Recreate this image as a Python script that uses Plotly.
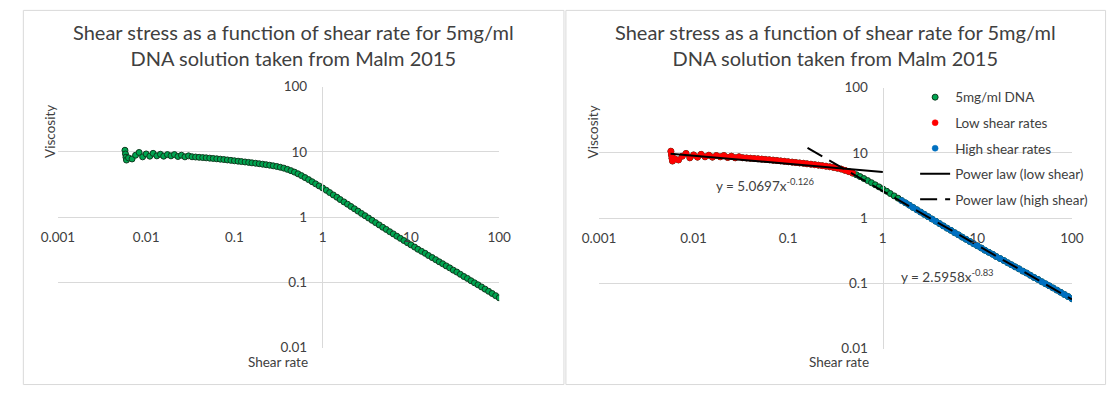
import plotly.graph_objects as go

# ---- data -------------------------------------------------------------
shear_rate = [
    0.00575, 0.00583, 0.00590, 0.00598, 0.00631, 0.00692, 0.00759, 0.00832, 0.00912,
    0.0100, 0.0110, 0.0120, 0.0132, 0.0145, 0.0158, 0.0174, 0.0191, 0.0209, 0.0229,
    0.0251, 0.0275, 0.0302, 0.0331, 0.0363, 0.0398, 0.0437, 0.0479, 0.0525, 0.0575,
    0.0631, 0.0692, 0.0759, 0.0832, 0.0912,
    0.100, 0.110, 0.120, 0.132, 0.145, 0.158, 0.174, 0.191, 0.209, 0.229,
    0.251, 0.275, 0.302, 0.331, 0.363, 0.398, 0.437, 0.479, 0.525, 0.575,
    0.631, 0.692, 0.759, 0.832, 0.912,
    1.00, 1.10, 1.20, 1.32, 1.45, 1.58, 1.74, 1.91, 2.09, 2.29,
    2.51, 2.75, 3.02, 3.31, 3.63, 3.98, 4.37, 4.79, 5.25, 5.75,
    6.31, 6.92, 7.59, 8.32, 9.12,
    10.0, 11.0, 12.0, 13.2, 14.5, 15.8, 17.4, 19.1, 20.9, 22.9,
    25.1, 27.5, 30.2, 33.1, 36.3, 39.8, 43.7, 47.9, 52.5, 57.5,
    63.1, 69.2, 75.9, 83.2, 91.2, 100.0,
]
viscosity = [
    10.6, 9.3, 8.3, 7.5, 8.1, 7.8, 8.9, 9.8, 8.4,
    9.3, 8.6, 9.5, 8.7, 9.2, 8.6, 9.1, 8.7, 9.1, 8.5,
    8.9, 8.4, 8.7, 8.42, 8.35, 8.27, 8.19, 8.11, 8.02, 7.93,
    7.84, 7.74, 7.64, 7.53, 7.42,
    7.31, 7.21, 7.11, 7.01, 6.91, 6.80, 6.70, 6.59, 6.48, 6.37,
    6.25, 6.12, 5.98, 5.82, 5.64, 5.40, 5.16, 4.90, 4.62, 4.33,
    4.04, 3.76, 3.49, 3.24, 3.01,
    2.80, 2.58, 2.38, 2.19, 2.02, 1.86, 1.714, 1.580, 1.456, 1.343,
    1.238, 1.141, 1.052, 0.970, 0.894, 0.824, 0.760, 0.700, 0.649, 0.598,
    0.554, 0.511, 0.473, 0.438, 0.406,
    0.376, 0.348, 0.322, 0.299, 0.279, 0.258, 0.240, 0.223, 0.207, 0.193,
    0.179, 0.167, 0.154, 0.144, 0.133, 0.123, 0.115, 0.106, 0.0986, 0.0918,
    0.0851, 0.0788, 0.0730, 0.0676, 0.0626, 0.0580,
]

# ranges used for the two power-law fits
low_shear_max = 0.5
high_shear_min = 1.5

low_fit_coef, low_fit_exp = 5.0697, -0.126
low_fit_x = [0.0057, 1.0]
high_fit_coef, high_fit_exp = 2.5958, -0.83
high_fit_x = [0.16, 100.0]

x_tick_vals = [0.001, 0.01, 0.1, 1, 10, 100]
x_tick_text = ["0.001", "0.01", "0.1", "1", "10", "100"]
y_tick_vals = [0.01, 0.1, 1, 10, 100]
y_tick_text = ["0.01", "0.1", "1", "10", "100"]

title_text = "Shear stress as a function of shear rate for 5mg/ml<br>DNA solution taken from Malm 2015"
series_name = "5mg/ml DNA"

# ---- styling ------------------------------------------------------------
W, H = 1120, 394
FONT = "Lato"
TEXT = "#404040"
GRID = "#D9D9D9"
GREEN, GREEN_EDGE = "#00A550", "#0E3A1E"
RED = "#FF0000"
BLUE = "#0070C0"
TICK_SIZE = 13.5
TITLE_SIZE = 20


def fx(p):
    return p / W


def fy(p):
    return 1 - p / H


low_x = [x for x in shear_rate if x <= low_shear_max]
low_y = [v for x, v in zip(shear_rate, viscosity) if x <= low_shear_max]
high_x = [x for x in shear_rate if x >= high_shear_min]
high_y = [v for x, v in zip(shear_rate, viscosity) if x >= high_shear_min]
low_fit_y = [low_fit_coef * x ** low_fit_exp for x in low_fit_x]
high_fit_y = [high_fit_coef * x ** high_fit_exp for x in high_fit_x]

fig = go.Figure()

green_marker = dict(size=6, color=GREEN, line=dict(color=GREEN_EDGE, width=1))

# left panel
fig.add_trace(go.Scatter(x=shear_rate, y=viscosity, mode="markers", name=series_name,
                         marker=green_marker, xaxis="x", yaxis="y", legend="legend"))

# right panel
fig.add_trace(go.Scatter(x=shear_rate, y=viscosity, mode="markers", name=series_name,
                         marker=green_marker, xaxis="x2", yaxis="y2",
                         legend="legend2", legendgroup="a"))
fig.add_trace(go.Scatter(x=low_x, y=low_y, mode="markers", name="Low shear rates",
                         marker=dict(size=6, color=RED, line=dict(color=RED, width=0.5)),
                         xaxis="x2", yaxis="y2", legend="legend2", legendgroup="b"))
fig.add_trace(go.Scatter(x=high_x, y=high_y, mode="markers", name="High shear rates",
                         marker=dict(size=6, color=BLUE, line=dict(color=BLUE, width=0.5)),
                         xaxis="x2", yaxis="y2", legend="legend2", legendgroup="c"))
fig.add_trace(go.Scatter(x=low_fit_x, y=low_fit_y, mode="lines", name="Power law (low shear)",
                         line=dict(color="black", width=2),
                         xaxis="x2", yaxis="y2", legend="legend2", legendgroup="d"))
fig.add_trace(go.Scatter(x=high_fit_x, y=high_fit_y, mode="lines", name="Power law (high shear)",
                         line=dict(color="black", width=2, dash="17px,8px"),
                         xaxis="x2", yaxis="y2", legend="legend2", legendgroup="e"))


def x_axis(x0, x1, cross_y):
    return dict(type="log", range=[-3, 2], domain=[fx(x0), fx(x1)], anchor="free",
                position=fy(cross_y), showgrid=False, zeroline=False, showline=False,
                tickvals=x_tick_vals, ticktext=x_tick_text, ticks="",
                ticklabelstandoff=10, tickfont=dict(size=TICK_SIZE, color=TEXT))


def y_axis(y_bottom, y_top, cross_x):
    return dict(type="log", range=[-2, 2], domain=[fy(y_bottom), fy(y_top)], anchor="free",
                position=fx(cross_x), showgrid=True, gridcolor=GRID, gridwidth=1,
                zeroline=False, showline=True, linecolor=GRID, linewidth=1,
                tickvals=y_tick_vals, ticktext=y_tick_text, ticks="",
                ticklabelstandoff=12, tickfont=dict(size=TICK_SIZE, color=TEXT))


panels = [
    # chart box, x-axis 0.001..100 px, y 0.01/100 px, y=1 row, x=1 column
    dict(box=(6, 561), xr=(42, 495), yr=(354, 82), cy=218, cx=313),
    dict(box=(563, 1117), xr=(597.5, 1083), yr=(355, 83), cy=219, cx=888.6),
]

shapes = []
annotations = []
for i, p in enumerate(panels):
    sfx = "" if i == 0 else "2"
    fig.update_layout({
        "xaxis" + sfx: x_axis(p["xr"][0], p["xr"][1], p["cy"]),
        "yaxis" + sfx: y_axis(p["yr"][0], p["yr"][1], p["cx"]),
    })
    b0, b1 = p["box"]
    shapes.append(dict(type="rect", xref="paper", yref="paper",
                       x0=fx(b0 + 0.5), x1=fx(b1 + 0.5), y0=fy(392.5), y1=fy(2.5),
                       line=dict(color=GRID, width=1), fillcolor="rgba(0,0,0,0)"))
    centre = (b0 + b1) / 2
    annotations.append(dict(text=title_text, xref="paper", yref="paper",
                            x=fx(centre), y=fy(39), xanchor="center", yanchor="middle",
                            showarrow=False, font=dict(size=TITLE_SIZE, color=TEXT)))
    annotations.append(dict(text="Viscosity", xref="paper", yref="paper",
                            x=fx(b0 + 28), y=fy(129), xanchor="center", yanchor="middle",
                            textangle=-90, showarrow=False,
                            font=dict(size=TICK_SIZE, color=TEXT)))
    annotations.append(dict(text="Shear rate", xref="paper", yref="paper",
                            x=fx(p["cx"] - 45), y=fy(369), xanchor="center", yanchor="middle",
                            showarrow=False, font=dict(size=TICK_SIZE, color=TEXT)))

annotations.append(dict(text=f"y = {low_fit_coef}x<sup>{low_fit_exp}</sup>",
                        xref="paper", yref="paper", x=fx(768), y=fy(184),
                        xanchor="center", yanchor="middle", showarrow=False,
                        font=dict(size=TICK_SIZE, color=TEXT)))
annotations.append(dict(text=f"y = {high_fit_coef}x<sup>{high_fit_exp}</sup>",
                        xref="paper", yref="paper", x=fx(955), y=fy(279),
                        xanchor="center", yanchor="middle", showarrow=False,
                        font=dict(size=TICK_SIZE, color=TEXT)))

legend_font = dict(family=FONT, size=TICK_SIZE, color=TEXT)
fig.update_layout(
    width=W, height=H,
    margin=dict(l=0, r=0, t=0, b=0),
    paper_bgcolor="white", plot_bgcolor="rgba(0,0,0,0)",
    font=dict(family=FONT, color=TEXT),
    shapes=shapes, annotations=annotations,
    legend=dict(x=fx(375), y=fy(112.7), xanchor="left", yanchor="top",
                font=legend_font, bgcolor="rgba(0,0,0,0)", itemwidth=30),
    legend2=dict(x=fx(922), y=fy(77), xanchor="left", yanchor="top",
                 font=legend_font, bgcolor="rgba(0,0,0,0)", itemwidth=30,
                 traceorder="grouped", tracegroupgap=5),
)

# keep the fixed-size figure flush with the page corner
fig.write_html("out.html",
               post_script="document.body.style.margin='0';"
                           "document.body.style.overflow='hidden';")
